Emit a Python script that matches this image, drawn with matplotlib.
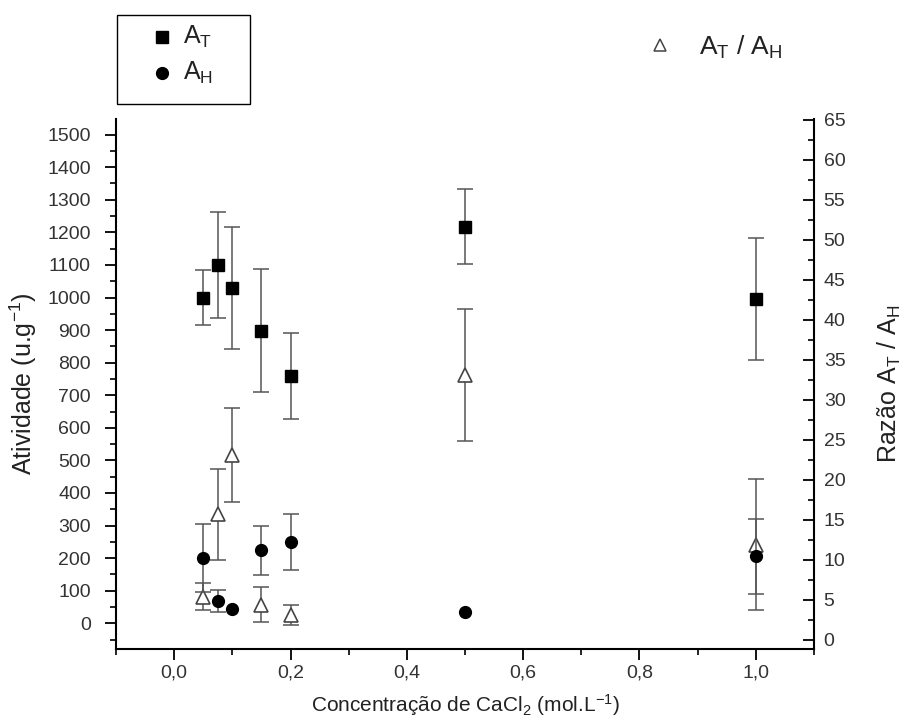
import matplotlib.pyplot as plt
from matplotlib.ticker import MultipleLocator, FuncFormatter
from matplotlib.lines import Line2D
from matplotlib.patches import Rectangle

plt.rcParams['font.family'] = ['Liberation Sans', 'DejaVu Sans']
plt.rcParams['mathtext.default'] = 'regular'

# concentração de CaCl2 (mol/L)
conc = [0.05, 0.075, 0.1, 0.15, 0.2, 0.5, 1.0]

# atividade total (A_T) e erro
at_val = [1000, 1100, 1029, 898, 760, 1217, 996]
at_err = [83, 163, 187, 189, 132, 115, 188]

# atividade hidrolítica (A_H) e erro (0 = sem barra)
ah_val = [200, 69, 45, 224, 249, 34, 205]
ah_err = [105, 33, 0, 75, 87, 0, 115]

# razão A_T / A_H e erro
ratio_val = [5.4, 15.7, 23.1, 4.4, 3.1, 33.1, 11.9]
ratio_err = [1.7, 5.7, 5.9, 2.2, 1.2, 8.3, 8.2]

W, H = 902, 725
fig = plt.figure(figsize=(W / 100, H / 100), dpi=100)
ax = fig.add_axes([116 / W, 1 - 649 / H, (814 - 116) / W, (649 - 119) / H])
ax2 = ax.twinx()

err_kw = dict(ecolor='#555555', elinewidth=1.1, capsize=6, capthick=1.1, linestyle='none')


def series(a, x, y, err, **kw):
    """pontos com barra de erro; pontos sem erro ficam só com o marcador"""
    xe = [xi for xi, e in zip(x, err) if e > 0]
    ye = [yi for yi, e in zip(y, err) if e > 0]
    ee = [e for e in err if e > 0]
    a.errorbar(xe, ye, yerr=ee, fmt='none', **err_kw)
    a.plot(x, y, linestyle='none', **kw)


# razão no eixo da direita
series(ax2, conc, ratio_val, ratio_err, marker='^', markersize=10,
       mfc='white', mec='#444444', mew=1.2)

# atividades no eixo da esquerda (desenhadas por cima)
series(ax, conc, at_val, at_err, marker='s', markersize=8, color='black')
series(ax, conc, ah_val, ah_err, marker='o', markersize=8.5, color='black')
ax.set_zorder(ax2.get_zorder() + 1)
ax.patch.set_visible(False)

ax.set_xlim(-0.1, 1.1)
ax.set_ylim(-79, 1548)
ax2.set_ylim(-1.15, 65.1)

for a in (ax, ax2):
    a.spines['top'].set_visible(False)
    for s in a.spines.values():
        s.set_linewidth(1.5)
ax.spines['right'].set_visible(False)
ax2.spines['left'].set_visible(False)
ax2.spines['bottom'].set_visible(False)

ax.xaxis.set_major_locator(MultipleLocator(0.2))
ax.xaxis.set_minor_locator(MultipleLocator(0.1))
ax.xaxis.set_major_formatter(FuncFormatter(lambda v, p: f'{v:.1f}'.replace('.', ',')))
ax.yaxis.set_major_locator(MultipleLocator(100))
ax.yaxis.set_minor_locator(MultipleLocator(50))
ax2.yaxis.set_major_locator(MultipleLocator(5))
ax2.yaxis.set_minor_locator(MultipleLocator(2.5))

ax.tick_params(which='major', direction='out', length=8, width=1.3,
               labelsize=14, labelcolor='#333333')
ax.tick_params(axis='y', pad=10)
ax.tick_params(axis='x', pad=3)
ax.tick_params(which='minor', direction='out', length=4.5, width=1.2)
ax2.tick_params(which='major', direction='in', length=8, width=1.3,
                labelsize=14, labelcolor='#333333', pad=7)
ax2.tick_params(which='minor', direction='in', length=4.5, width=1.2)

ax.set_xlabel('Concentração de CaCl$_2$ (mol.L$^{-1}$)', fontsize=15,
              color='#222222', labelpad=8)
ax.set_ylabel('Atividade (u.g$^{-1}$)', fontsize=18, color='#222222', labelpad=6)
ax2.set_ylabel('Razão A$_T$ / A$_H$', fontsize=18, color='#222222', labelpad=22)


def px(x, y):
    """pixel (a partir do canto superior esquerdo) -> coordenada da figura"""
    return x / W, 1 - y / H


# legenda da esquerda, com moldura
fig.add_artist(Rectangle(px(117, 104), 133 / W, 89 / H, transform=fig.transFigure,
                         fill=False, edgecolor='black', linewidth=1.0))
for yy, mk, ms, lab in [(37, 's', 8, 'A$_T$'), (73, 'o', 8.5, 'A$_H$')]:
    fig.add_artist(Line2D([px(162, yy)[0]], [px(162, yy)[1]], marker=mk, color='black',
                          markersize=ms, linestyle='none', transform=fig.transFigure))
    fig.text(*px(183, yy), lab, fontsize=18, color='#222222', va='center', ha='left')

# legenda da razão
fig.add_artist(Line2D([px(660, 45)[0]], [px(660, 45)[1]], marker='^', mfc='white',
                      mec='#444444', mew=1.1, markersize=9, linestyle='none',
                      transform=fig.transFigure))
fig.text(*px(699, 47), 'A$_T$ / A$_H$', fontsize=19, color='#222222',
         va='center', ha='left')

fig.savefig('out.png', dpi=100)
